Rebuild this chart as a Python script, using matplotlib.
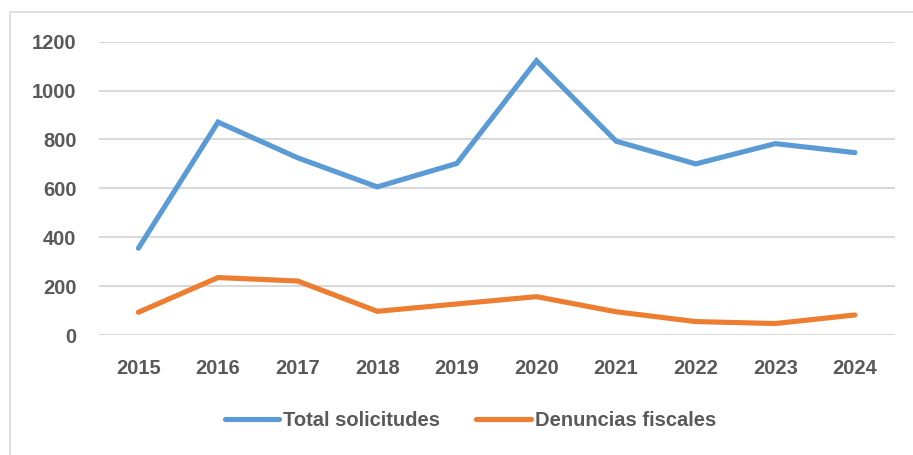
import matplotlib
matplotlib.use('Agg')
import matplotlib.pyplot as plt
from matplotlib.patches import Rectangle

# Values
years = ['2015', '2016', '2017', '2018', '2019', '2020', '2021', '2022', '2023', '2024']
total_solicitudes = [355, 871, 725, 606, 702, 1122, 793, 700, 783, 746]
denuncias_fiscales = [93, 235, 221, 97, 127, 157, 95, 55, 47, 82]
y_ticks = [0, 200, 400, 600, 800, 1000, 1200]

TEXT_COLOR = '#595959'
plt.rcParams['font.family'] = ['Liberation Sans', 'DejaVu Sans']
plt.rcParams['font.weight'] = 'bold'

fig = plt.figure(figsize=(9.13, 4.55), dpi=100)
ax = fig.add_axes([0.108, 0.2637, 0.872, 0.6447])

x = range(len(years))
ax.plot(x, total_solicitudes, color='#5B9BD5', linewidth=3.7,
        solid_capstyle='round', solid_joinstyle='miter', label='Total solicitudes')
ax.plot(x, denuncias_fiscales, color='#ED7D31', linewidth=3.7,
        solid_capstyle='round', solid_joinstyle='miter', label='Denuncias fiscales')

ax.set_xlim(-0.5, len(years) - 0.5)
ax.set_ylim(0, 1200)
ax.set_yticks(y_ticks)
ax.set_xticks(list(x))
ax.set_xticklabels(years)
ax.grid(axis='y', color='#D9D9D9', linewidth=1.5)
ax.set_axisbelow(True)
for side in ['top', 'right', 'left', 'bottom']:
    ax.spines[side].set_visible(False)
ax.tick_params(axis='both', length=0, labelsize=14.5, labelcolor=TEXT_COLOR)
ax.tick_params(axis='y', pad=16)
ax.tick_params(axis='x', pad=17)
for lbl in ax.get_xticklabels() + ax.get_yticklabels():
    lbl.set_fontweight('bold')

# light border around the chart area
fig.patches.append(Rectangle((10 / 913, -0.1), 1.1, 1 - 12 / 455 + 0.1,
                             transform=fig.transFigure, fill=False,
                             edgecolor='#D9D9D9', linewidth=1.2))

leg = fig.legend(loc='center', bbox_to_anchor=(0.515, 0.075), ncol=2,
                 frameon=False, handlelength=2.7, handletextpad=0.2,
                 columnspacing=1.8, prop={'size': 14.5, 'weight': 'bold'})
for t in leg.get_texts():
    t.set_color(TEXT_COLOR)

fig.savefig('out.png', dpi=100)
